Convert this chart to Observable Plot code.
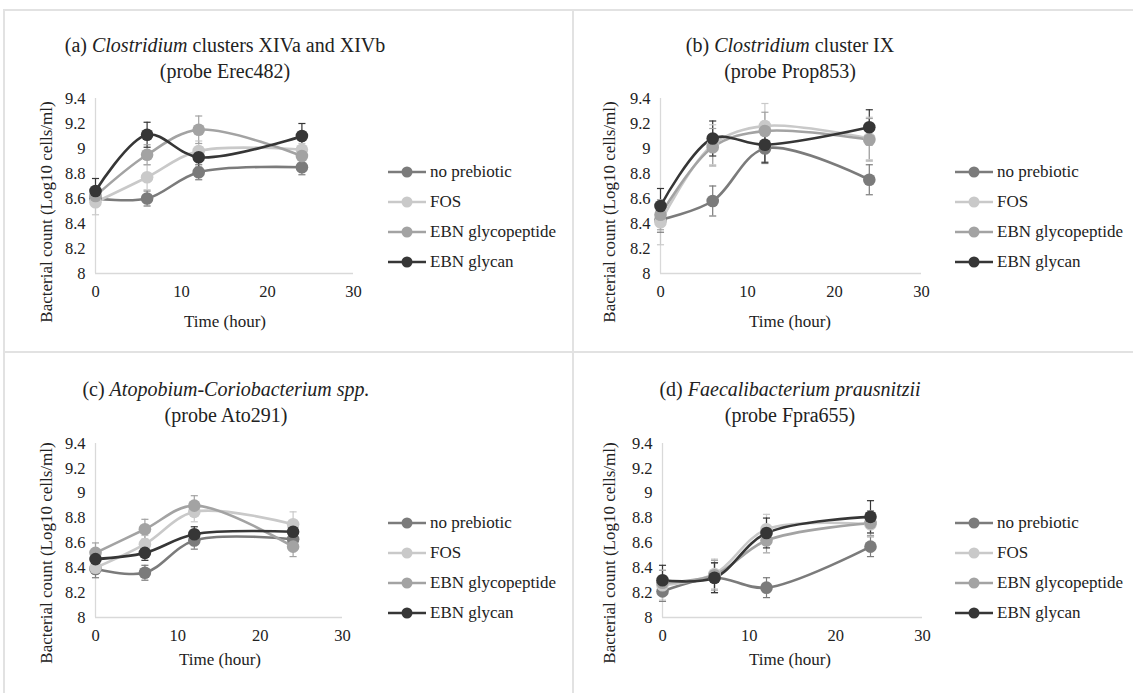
<!DOCTYPE html>
<html>
<head>
<meta charset="utf-8">
<script src="https://cdn.jsdelivr.net/npm/d3@7"></script>
<script src="https://cdn.jsdelivr.net/npm/@observablehq/plot@0.6"></script>
<style>
  html, body { margin: 0; padding: 0; background: #fff; }
  #page { position: relative; width: 1133px; height: 693px; overflow: hidden; font-family: "Liberation Serif", serif; color: #222; }
  .title { position: absolute; transform: translate(-50%, 0); white-space: nowrap; font-size: 20px; line-height: 26px; text-align: center; }
  .ylab { position: absolute; transform: translate(-50%, -50%) rotate(-90deg); white-space: nowrap; font-size: 17px; }
  .xlab { position: absolute; transform: translate(-50%, -50%); white-space: nowrap; font-size: 17px; }
  .legrow { position: absolute; display: flex; align-items: center; white-space: nowrap; font-size: 17px; transform: translate(0, -50%); }
  .legrow svg { display: block; margin-right: 4px; }
  .border { position: absolute; background: #e2e2e2; }
</style>
</head>
<body>
<div id="page"></div>
<script>
// ---------- data ----------
const times = [0, 6, 12, 24];
const seriesNames = ["no prebiotic", "FOS", "EBN glycopeptide", "EBN glycan"];
const seriesColors = ["#7b7b7b", "#c9c9c9", "#a3a3a3", "#363636"];
const xTicks = [0, 10, 20, 30];
const yTicks = [8, 8.2, 8.4, 8.6, 8.8, 9, 9.2, 9.4];

// (a) Clostridium clusters XIVa and XIVb
const meansA = [
  [8.60, 8.60, 8.81, 8.85],
  [8.57, 8.77, 8.98, 8.99],
  [8.62, 8.95, 9.15, 8.94],
  [8.66, 9.11, 8.93, 9.10]
];
const sdA = [
  [0.03, 0.06, 0.06, 0.06],
  [0.10, 0.10, 0.08, 0.05],
  [0.05, 0.08, 0.11, 0.08],
  [0.10, 0.10, 0.08, 0.10]
];
// (b) Clostridium cluster IX
const meansB = [
  [8.43, 8.58, 9.00, 8.75],
  [8.41, 9.03, 9.18, 9.08],
  [8.47, 9.01, 9.14, 9.07],
  [8.54, 9.08, 9.03, 9.17]
];
const sdB = [
  [0.10, 0.12, 0.12, 0.12],
  [0.18, 0.16, 0.18, 0.17],
  [0.12, 0.15, 0.15, 0.17],
  [0.14, 0.14, 0.14, 0.14]
];
// (c) Atopobium-Coriobacterium spp.
const meansC = [
  [8.39, 8.36, 8.62, 8.63],
  [8.40, 8.59, 8.85, 8.75],
  [8.52, 8.71, 8.90, 8.57],
  [8.47, 8.52, 8.67, 8.69]
];
const sdC = [
  [0.07, 0.06, 0.07, 0.06],
  [0.05, 0.07, 0.08, 0.10],
  [0.08, 0.08, 0.08, 0.08],
  [0.06, 0.06, 0.06, 0.06]
];
// (d) Faecalibacterium prausnitzii
const meansD = [
  [8.21, 8.32, 8.24, 8.57],
  [8.26, 8.35, 8.71, 8.75],
  [8.28, 8.34, 8.62, 8.76],
  [8.30, 8.32, 8.68, 8.81]
];
const sdD = [
  [0.08, 0.12, 0.08, 0.08],
  [0.12, 0.12, 0.12, 0.10],
  [0.10, 0.12, 0.10, 0.10],
  [0.12, 0.12, 0.12, 0.13]
];

const titlesHTML = [
  ["(a) <i>Clostridium</i> clusters XIVa and XIVb", "(probe Erec482)"],
  ["(b) <i>Clostridium</i> cluster IX", "(probe Prop853)"],
  ["(c) <i>Atopobium-Coriobacterium spp.</i>", "(probe Ato291)"],
  ["(d) <i>Faecalibacterium prausnitzii</i>", "(probe Fpra655)"]
];
const yLabel = "Bacterial count (Log10 cells/ml)";
const xLabel = "Time (hour)";

// ---------- layout ----------
const panels = [
  {means: meansA, sd: sdA, L: 95,  R: 353, T: 98,  B: 273, tx: 225, ty: 32,  lx: 388, ly: 172, ylx: 47,  yly: 212, xlx: 225, xly: 322},
  {means: meansB, sd: sdB, L: 660, R: 921, T: 98,  B: 273, tx: 790, ty: 32,  lx: 955, ly: 172, ylx: 610, yly: 212, xlx: 790, xly: 322},
  {means: meansC, sd: sdC, L: 95,  R: 342, T: 443, B: 617, tx: 226, ty: 376, lx: 388, ly: 523, ylx: 47,  yly: 553, xlx: 220, xly: 660},
  {means: meansD, sd: sdD, L: 662, R: 922, T: 443, B: 617, tx: 790, ty: 376, lx: 955, ly: 523, ylx: 610, yly: 553, xlx: 790, xly: 660}
];

const page = document.getElementById("page");

function border(l, t, w, h) {
  const d = document.createElement("div");
  d.className = "border";
  Object.assign(d.style, {left: l + "px", top: t + "px", width: w + "px", height: h + "px"});
  page.appendChild(d);
}
border(3, 9, 1130, 2);
border(3, 9, 2, 684);
border(572, 9, 2, 684);
border(3, 351, 1130, 2);

const capSymbol = {
  draw(ctx, size) {
    const w = Math.sqrt(size) / 2;
    ctx.moveTo(-w, 0);
    ctx.lineTo(w, 0);
  }
};

panels.forEach((p, pi) => {
  const rows = [];
  seriesNames.forEach((s, si) => {
    times.forEach((t, ti) => {
      rows.push({series: s, time: t, value: p.means[si][ti], sd: p.sd[si][ti]});
    });
  });

  const svgLeft = p.L - 95, svgTop = p.T - 20;
  const width = p.R - svgLeft + 20, height = p.B - svgTop + 40;

  const chart = Plot.plot({
    width, height,
    marginLeft: 95, marginRight: 20, marginTop: 20, marginBottom: 40,
    style: {fontFamily: "'Liberation Serif', serif", fontSize: "16.5px", color: "#222", background: "transparent", overflow: "visible"},
    x: {domain: [0, 30]},
    y: {domain: [8, 9.4]},
    color: {domain: seriesNames, range: seriesColors},
    marks: [
      Plot.ruleY([8], {stroke: "#d9d9d9", strokeWidth: 1.3}),
      Plot.ruleX([0], {stroke: "#d9d9d9", strokeWidth: 1.3}),
      Plot.axisX({ticks: xTicks, tickSize: 0, tickPadding: 12, label: null, tickFormat: d => String(d), fontFamily: "'Liberation Serif', serif"}),
      Plot.axisY({ticks: yTicks, tickSize: 0, tickPadding: 10, label: null, tickFormat: d => String(+d.toFixed(1)), fontFamily: "'Liberation Serif', serif"}),
      Plot.ruleX(rows, {x: "time", y1: d => d.value - d.sd, y2: d => d.value + d.sd, stroke: "series", strokeWidth: 1.2}),
      Plot.dot(rows, {x: "time", y: d => d.value + d.sd, symbol: capSymbol, r: 4, stroke: "series", fill: "none", strokeWidth: 1.2}),
      Plot.dot(rows, {x: "time", y: d => d.value - d.sd, symbol: capSymbol, r: 4, stroke: "series", fill: "none", strokeWidth: 1.2}),
      Plot.line(rows, {x: "time", y: "value", z: "series", stroke: "series", strokeWidth: 2.6, curve: "catmull-rom"}),
      Plot.dot(rows, {x: "time", y: "value", fill: "series", r: 6.3})
    ]
  });
  chart.style.position = "absolute";
  chart.style.left = svgLeft + "px";
  chart.style.top = svgTop + "px";
  page.appendChild(chart);

  const title = document.createElement("div");
  title.className = "title";
  title.style.left = p.tx + "px";
  title.style.top = p.ty + "px";
  title.innerHTML = titlesHTML[pi][0] + "<br>" + titlesHTML[pi][1];
  page.appendChild(title);

  const yl = document.createElement("div");
  yl.className = "ylab";
  yl.style.left = p.ylx + "px";
  yl.style.top = p.yly + "px";
  yl.textContent = yLabel;
  page.appendChild(yl);

  const xl = document.createElement("div");
  xl.className = "xlab";
  xl.style.left = p.xlx + "px";
  xl.style.top = p.xly + "px";
  xl.textContent = xLabel;
  page.appendChild(xl);

  seriesNames.forEach((s, si) => {
    const row = document.createElement("div");
    row.className = "legrow";
    row.style.left = p.lx + "px";
    row.style.top = (p.ly + si * 30) + "px";
    const c = seriesColors[si];
    row.innerHTML = `<svg width="38" height="14"><line x1="0" y1="7" x2="38" y2="7" stroke="${c}" stroke-width="2.6"/><circle cx="19" cy="7" r="5.5" fill="${c}"/></svg><span>${s}</span>`;
    page.appendChild(row);
  });
});
</script>
</body>
</html>
